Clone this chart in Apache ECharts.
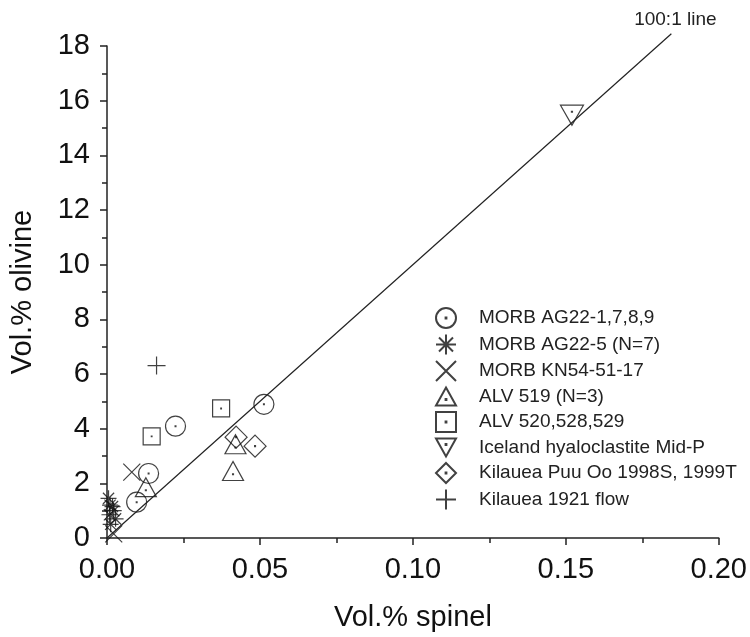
<!DOCTYPE html>
<html>
<head>
<meta charset="utf-8">
<script src="https://cdn.jsdelivr.net/npm/echarts@6/dist/echarts.min.js"></script>
<style>
html,body{margin:0;padding:0;background:#fff;}
#main{width:750px;height:637px;}
</style>
</head>
<body>
<div id="main"></div>
<script>
// vol.% spinel, vol.% olivine
var morbAG22 = [[0.0513, 4.89], [0.0224, 4.09], [0.0136, 2.36], [0.0097, 1.31]];
var morbAG22_5 = [[0.0005, 1.45], [0.0010, 1.20], [0.0022, 1.00], [0.0008, 0.85], [0.0028, 0.70], [0.0012, 0.50], [0.0018, 1.15]];
var morbKN54 = [[0.0081, 2.41], [0.0022, 0.15]];
var alv519 = [[0.0127, 1.86], [0.0420, 3.43], [0.0412, 2.45]];
var alv520 = [[0.0146, 3.72], [0.0373, 4.74]];
var iceland = [[0.152, 15.47]];
var kilaueaPuu = [[0.0422, 3.69], [0.0484, 3.36]];
var kilauea1921 = [[0.0162, 6.31]];
var refLine = [[0, 0], [0.1845, 18.45]];

var names = ['MORB AG22-1,7,8,9', 'MORB AG22-5 (N=7)', 'MORB KN54-51-17', 'ALV 519 (N=3)',
    'ALV 520,528,529', 'Iceland hyaloclastite Mid-P', 'Kilauea Puu Oo 1998S, 1999T', 'Kilauea 1921 flow'];

var dot = ' M9.6 9.6L10.4 9.6L10.4 10.4L9.6 10.4Z';
var sym = {
    circle: 'path://M0 10A10 10 0 1 1 20 10A10 10 0 1 1 0 10Z' + dot,
    star: 'path://M10 0L10 20M0 10L20 10M3 3L17 17M17 3L3 17',
    cross: 'path://M0 0L20 20M20 0L0 20',
    tri: 'path://M10 0L20 18L0 18Z M9.6 11.6L10.4 11.6L10.4 12.4L9.6 12.4Z',
    square: 'path://M0 0L20 0L20 20L0 20Z' + dot,
    down: 'path://M0 0L20 0L10 18Z M9.6 5.6L10.4 5.6L10.4 6.4L9.6 6.4Z',
    diamond: 'path://M10 0L20 10L10 20L0 10Z' + dot,
    plus: 'path://M10 0L10 20M0 10L20 10'
};

function pts(name, data, symbol, size){
    return {
        name: name,
        type: 'scatter',
        data: data,
        symbol: symbol,
        symbolSize: size,
        itemStyle: {color: 'rgba(0,0,0,0)', borderColor: '#111', borderWidth: 1.2}
    };
}

var myChart = echarts.init(document.getElementById('main'));
var option = {
    animation: false,
    textStyle: {fontFamily: 'Liberation Sans'},
    grid: {left: 104, right: 31, top: 46, bottom: 98},
    legend: {
        data: names,
        orient: 'vertical',
        left: 430,
        top: 302,
        itemWidth: 20,
        itemHeight: 20,
        itemGap: 4.5,
        textStyle: {fontSize: 19, color: '#222', fontFamily: 'Liberation Sans', padding: [0, 0, 0, 18]}
    },
    xAxis: {
        type: 'value',
        min: 0,
        max: 0.2,
        interval: 0.05,
        name: 'Vol.% spinel',
        nameLocation: 'middle',
        nameGap: 65,
        nameTextStyle: {fontSize: 29, color: '#111'},
        axisLine: {lineStyle: {color: '#222', width: 1.5}},
        axisTick: {length: 7, lineStyle: {color: '#222', width: 1.5}},
        minorTick: {show: true, splitNumber: 2, length: 5, lineStyle: {color: '#222', width: 1.5}},
        axisLabel: {fontSize: 29, color: '#111', margin: 17, formatter: function(v){ return v.toFixed(2); }},
        splitLine: {show: false}
    },
    yAxis: {
        type: 'value',
        min: 0,
        max: 18,
        interval: 2,
        name: 'Vol.% olivine',
        nameLocation: 'middle',
        nameGap: 70,
        nameTextStyle: {fontSize: 29, color: '#111'},
        axisLine: {show: true, lineStyle: {color: '#222', width: 1.5}},
        axisTick: {show: true, length: 7, lineStyle: {color: '#222', width: 1.5}},
        minorTick: {show: true, splitNumber: 2, length: 5, lineStyle: {color: '#222', width: 1.5}},
        axisLabel: {fontSize: 29, color: '#111', margin: 17},
        splitLine: {show: false}
    },
    series: [
        {
            name: '100:1 line',
            type: 'line',
            clip: false,
            symbol: 'circle',
            symbolSize: 0,
            lineStyle: {color: '#222', width: 1.2},
            data: [
                refLine[0],
                {value: refLine[1], label: {show: true, position: 'top', distance: 4, offset: [4, 0],
                    formatter: '100:1 line', fontSize: 19, color: '#222'}}
            ]
        },
        pts(names[0], morbAG22, sym.circle, 20),
        pts(names[1], morbAG22_5, sym.star, 16),
        pts(names[2], morbKN54, sym.cross, 17),
        pts(names[3], alv519, sym.tri, [21, 19]),
        pts(names[4], alv520, sym.square, 17),
        pts(names[5], iceland, sym.down, [23, 20]),
        pts(names[6], kilaueaPuu, sym.diamond, 22),
        pts(names[7], kilauea1921, sym.plus, 18)
    ]
};
myChart.setOption(option);
</script>
</body>
</html>
